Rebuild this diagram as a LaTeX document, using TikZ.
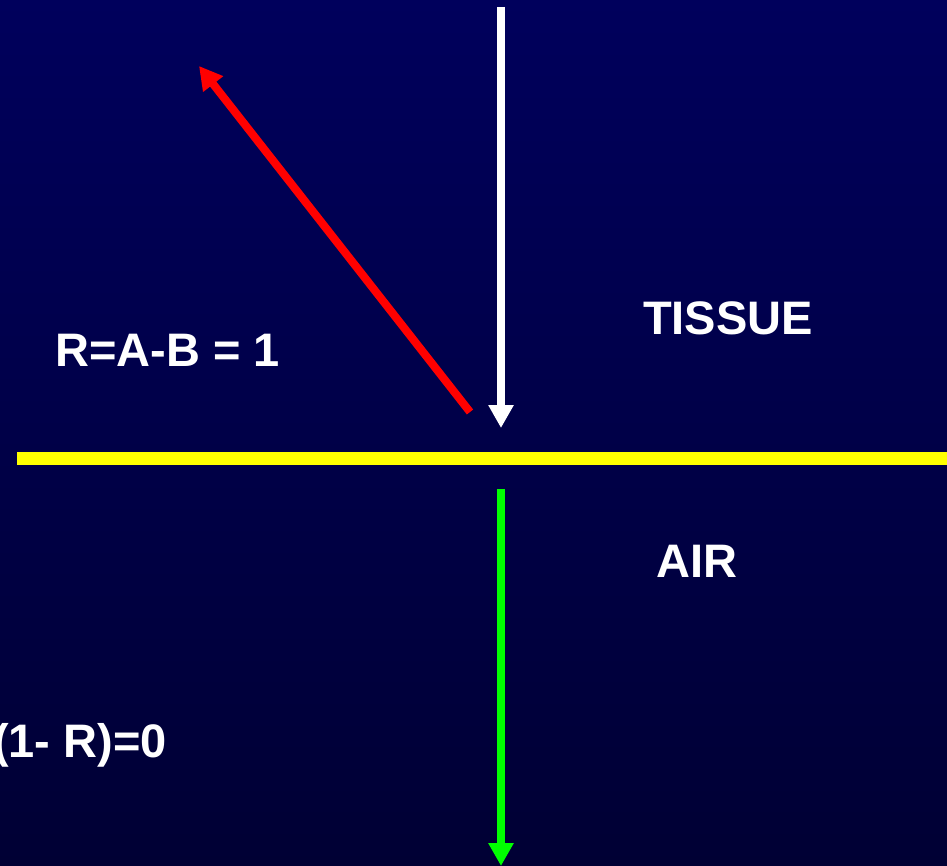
\documentclass[tikz,border=0pt]{standalone}
\usepackage{fontspec}
\setmainfont{Liberation Sans}
\usetikzlibrary{arrows.meta}
\definecolor{bgtop}{RGB}{0,0,92}
\definecolor{bgbot}{RGB}{0,0,52}
\definecolor{rayred}{RGB}{255,0,0}
\definecolor{raygreen}{RGB}{0,255,0}
\definecolor{boundary}{RGB}{255,255,0}
\tikzset{
  ray/.style={line width=8pt, -{Triangle[length=23pt,width=24pt]}},
  lbl/.style={text=white, font=\fontsize{47}{50}\selectfont\bfseries, inner sep=0pt}
}
\begin{document}
\begin{tikzpicture}[x=1pt,y=-1pt]
\useasboundingbox (0,0) rectangle (947,866);
\shade[top color=bgtop, bottom color=bgbot] (0,0) rectangle (947,866);
% coordinates
\coordinate (wstart) at (501,7);
\coordinate (wend) at (501,428);
\coordinate (rstart) at (470,412);
\coordinate (rend) at (199,66);
\coordinate (gstart) at (501,489);
\coordinate (gend) at (501,866);
\coordinate (yl) at (17,458.5);
\coordinate (yr) at (950,458.5);
% boundary
\draw[boundary, line width=13pt] (yl) -- (yr);
% rays
\draw[ray, white] (wstart) -- (wend);
\draw[ray, rayred] (rstart) -- (rend);
\draw[ray, raygreen] (gstart) -- (gend);
% labels
\node[lbl] (tissue) at (728,318) {TISSUE};
\node[lbl] (air) at (697,561) {AIR};
\node[lbl, anchor=west] (rlbl) at (55,350) {R=A-B = 1};
\node[lbl, anchor=west] (tlbl) at (-7,745) {(1- R)=0};
\end{tikzpicture}
\end{document}
